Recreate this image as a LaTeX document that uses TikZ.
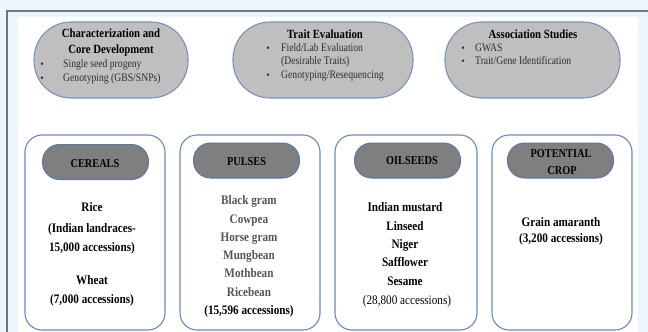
\documentclass[tikz,border=0pt]{standalone}
\usepackage{fontspec}
\setmainfont{Liberation Serif}
\newfontfamily\narrowA[FakeStretch=0.86]{Liberation Serif}
\newfontfamily\narrowB[FakeStretch=0.84]{Liberation Serif}
\definecolor{bgblue}{HTML}{EAF5FC}
\definecolor{frameline}{HTML}{6B787D}
\definecolor{ovalfill}{HTML}{BFBFBF}
\definecolor{ovalline}{HTML}{7A92BE}
\definecolor{pillfill}{HTML}{7F7F7F}
\definecolor{pillline}{HTML}{5A77A8}
\definecolor{boxline}{HTML}{6A89BF}
\definecolor{pulsegray}{HTML}{555555}
\definecolor{bultext}{HTML}{2E2E2E}
\begin{document}
\begin{tikzpicture}[x=1pt,y=-1pt,
  oval/.style={draw=ovalline, line width=1.1pt, fill=ovalfill, rounded corners=37pt, minimum height=76pt, inner sep=0pt},
  cropbox/.style={draw=boxline, line width=1.1pt, fill=white, rounded corners=17pt, minimum height=195pt, inner sep=0pt},
  pill/.style={draw=pillline, line width=1pt, fill=pillfill, rounded corners=17pt, minimum width=106pt, minimum height=35pt, inner sep=0pt},
  ttl/.style={anchor=base, inner sep=0pt, font=\narrowA\fontsize{12.5}{13}\selectfont\bfseries},
  bul/.style={anchor=base west, inner sep=0pt, text=bultext, font=\narrowB\fontsize{11.5}{12}\selectfont},
  bdot/.style={anchor=base, inner sep=0pt, text=bultext, font=\fontsize{10}{11}\selectfont},
  plab/.style={anchor=base, inner sep=0pt, font=\narrowA\fontsize{12}{13}\selectfont\bfseries},
  crop/.style={anchor=base, inner sep=0pt, font=\narrowA\fontsize{13}{14}\selectfont\bfseries},
  cropr/.style={anchor=base, inner sep=0pt, font=\narrowA\fontsize{13}{14}\selectfont}
]
\useasboundingbox (0,0) rectangle (648,332);
\fill[bgblue] (0,0) rectangle (648,332);
\fill[white] (18,17) rectangle (638,332);
\draw[frameline, line width=1.6pt] (7,332) -- (7,11) -- (648,11);

% top ovals
\node[oval, minimum width=154pt] (o1) at (111,60) {};
\node[oval, minimum width=180pt] (o2) at (323,60) {};
\node[oval, minimum width=175pt] (o3) at (532.5,60) {};

\node[ttl] (o1a) at (111,37.5) {Characterization and};
\node[ttl] (o1b) at (111,53.5) {Core Development};
\node[bdot] (o1d1) at (42,67) {\textbullet};
\node[bul] (o1c) at (63,67) {Single seed progeny};
\node[bdot] (o1d2) at (42,81) {\textbullet};
\node[bul] (o1e) at (63,81) {Genotyping (GBS/SNPs)};

\node[ttl] (o2a) at (325,38.5) {Trait Evaluation};
\node[bdot] (o2d1) at (268,51) {\textbullet};
\node[bul] (o2b) at (281,51) {Field/Lab Evaluation};
\node[bul] (o2c) at (281,64) {(Desirable Traits)};
\node[bdot] (o2d2) at (268,78) {\textbullet};
\node[bul] (o2e) at (281,78) {Genotyping/Resequencing};

\node[ttl] (o3a) at (533,38.5) {Association Studies};
\node[bdot] (o3d1) at (463,51) {\textbullet};
\node[bul] (o3b) at (475,51) {GWAS};
\node[bdot] (o3d2) at (463,64) {\textbullet};
\node[bul] (o3c) at (475,64) {Trait/Gene Identification};

% bottom boxes
\node[cropbox, minimum width=140pt] (b1) at (95,232.5) {};
\node[cropbox, minimum width=140pt] (b2) at (250,232.5) {};
\node[cropbox, minimum width=142pt] (b3) at (406,232.5) {};
\node[cropbox, minimum width=140pt] (b4) at (562,232.5) {};

\node[pill] (p1) at (95.5,162) {};
\node[pill] (p2) at (246.5,160.5) {};
\node[pill] (p3) at (407.5,160.5) {};
\node[pill] (p4) at (560.5,160.5) {};

\node[plab] (p1t) at (95,167) {CEREALS};
\node[plab] (p2t) at (246.5,165.5) {PULSES};
\node[plab] (p3t) at (412,164.5) {OILSEEDS};
\node[plab] (p4t) at (561,157) {POTENTIAL};
\node[plab] (p4u) at (562,174) {CROP};

% cereals
\node[crop] (c1) at (92,211.5) {Rice};
\node[crop] (c2) at (92,232.5) {(Indian landraces-};
\node[crop] (c3) at (92,251.5) {15,000 accessions)};
\node[crop] (c4) at (92,284.5) {Wheat};
\node[crop] (c5) at (92,303.5) {(7,000 accessions)};

% pulses
\node[crop, text=pulsegray] (q1) at (249,204.5) {Black gram};
\node[crop, text=pulsegray] (q2) at (249,223) {Cowpea};
\node[crop, text=pulsegray] (q3) at (249,241.5) {Horse gram};
\node[crop, text=pulsegray] (q4) at (249,259.5) {Mungbean};
\node[crop, text=pulsegray] (q5) at (249,277.5) {Mothbean};
\node[crop, text=pulsegray] (q6) at (249,296.5) {Ricebean};
\node[crop] (q7) at (249,314.5) {(15,596 accessions)};

% oilseeds
\node[crop] (s1) at (405,211.5) {Indian mustard};
\node[crop] (s2) at (405,230.5) {Linseed};
\node[crop] (s3) at (405,248.5) {Niger};
\node[crop] (s4) at (405,266.5) {Safflower};
\node[crop] (s5) at (405,285.5) {Sesame};
\node[cropr] (s6) at (407,304.5) {(28,800 accessions)};

% potential crop
\node[crop] (g1) at (561,226.5) {Grain amaranth};
\node[crop] (g2) at (561,242.5) {(3,200 accessions)};
\end{tikzpicture}
\end{document}
